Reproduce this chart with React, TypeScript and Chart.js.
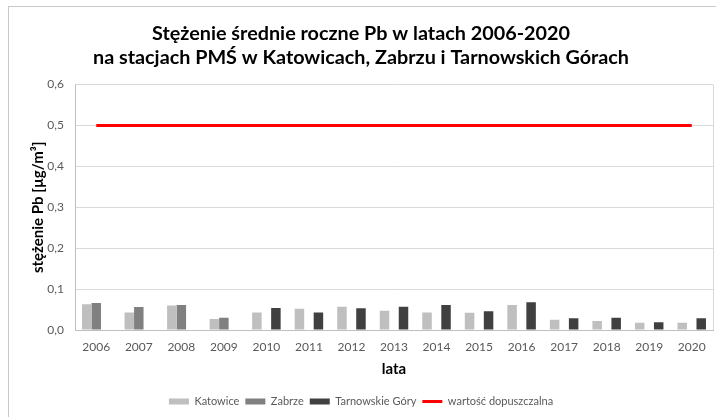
import React, { useEffect, useRef } from 'react';
import { Chart, registerables } from 'chart.js';

Chart.register(...registerables);

const years = ['2006', '2007', '2008', '2009', '2010', '2011', '2012', '2013', '2014', '2015', '2016', '2017', '2018', '2019', '2020'];
const katowice = [0.063, 0.043, 0.060, 0.027, 0.043, 0.052, 0.057, 0.047, 0.043, 0.042, 0.061, 0.025, 0.022, 0.018, 0.018];
const zabrze = [0.066, 0.056, 0.061, 0.030, null, null, null, null, null, null, null, null, null, null, null];
const tarnowskieGory = [null, null, null, null, 0.054, 0.043, 0.053, 0.057, 0.061, 0.046, 0.068, 0.029, 0.030, 0.019, 0.029];
const limitValue = [0.5, 0.5, 0.5, 0.5, 0.5, 0.5, 0.5, 0.5, 0.5, 0.5, 0.5, 0.5, 0.5, 0.5, 0.5];

const titleLines = ['Stężenie średnie roczne Pb w latach 2006-2020', 'na stacjach PMŚ w Katowicach, Zabrzu i Tarnowskich Górach'];
const yTitle = 'stężenie Pb [µg/m³]';
const xTitle = 'lata';

const FONT = 'Lato, "Open Sans", sans-serif';

const frame = {
  id: 'frame',
  beforeDraw(chart: any) {
    const { ctx } = chart;
    ctx.save();
    ctx.fillStyle = '#ffffff';
    ctx.fillRect(0, 0, chart.width, chart.height);
    ctx.strokeStyle = '#c8c8c8';
    ctx.lineWidth = 1;
    ctx.strokeRect(8.5, 6.5, chart.width + 20, chart.height + 20);
    ctx.restore();
  },
  afterDatasetsDraw(chart: any) {
    const { ctx, chartArea } = chart;
    ctx.save();
    ctx.strokeStyle = '#d9d9d9';
    ctx.lineWidth = 1;
    const x = Math.round(chartArea.right) + 0.5;
    ctx.beginPath();
    ctx.moveTo(x, chartArea.top);
    ctx.lineTo(x, chartArea.bottom);
    ctx.stroke();
    ctx.restore();
  },
};

export default function App() {
  const ref = useRef<HTMLCanvasElement | null>(null);

  useEffect(() => {
    if (!ref.current) return;
    const chart = new Chart(ref.current, {
      type: 'bar',
      data: {
        labels: years,
        datasets: [
          { type: 'bar', label: 'Katowice', data: katowice, backgroundColor: '#bfbfbf', borderWidth: 0, pointStyle: 'rect' } as any,
          { type: 'bar', label: 'Zabrze', data: zabrze, backgroundColor: '#808080', borderWidth: 0, pointStyle: 'rect' } as any,
          { type: 'bar', label: 'Tarnowskie Góry', data: tarnowskieGory, backgroundColor: '#404040', borderWidth: 0, pointStyle: 'rect' } as any,
          {
            type: 'line',
            label: 'wartość dopuszczalna',
            data: limitValue,
            borderColor: '#ff0000',
            backgroundColor: '#ff0000',
            borderWidth: 3,
            pointRadius: 0,
            pointStyle: 'line',
            fill: false,
          } as any,
        ],
      },
      options: {
        animation: false,
        responsive: true,
        maintainAspectRatio: false,
        layout: { padding: { left: 9, right: 3, top: 0, bottom: 0 } },
        datasets: {
          bar: { categoryPercentage: 0.67, barPercentage: 1.0 },
        } as any,
        plugins: {
          title: {
            display: true,
            text: titleLines,
            color: '#000000',
            font: { family: FONT, size: 19.8, weight: 'bold', lineHeight: 1.2 },
            padding: { top: 22, bottom: 15 },
          },
          legend: {
            position: 'bottom',
            labels: {
              usePointStyle: true,
              pointStyleWidth: 20,
              boxHeight: 6,
              color: '#595959',
              font: { family: FONT, size: 11 },
              padding: 6,
            },
          },
          tooltip: { enabled: false },
        },
        scales: {
          x: {
            grid: { display: false, drawTicks: false },
            border: { display: true, color: '#bfbfbf' },
            ticks: { color: '#595959', font: { family: FONT, size: 12 }, padding: 10 },
            title: {
              display: true,
              text: xTitle,
              color: '#000000',
              font: { family: FONT, size: 15, weight: 'bold', lineHeight: 1.2 },
              padding: { top: 6, bottom: 12 },
            },
            afterFit: (scale: any) => {
              scale.height = 60;
            },
          },
          y: {
            min: 0,
            max: 0.6,
            ticks: {
              stepSize: 0.1,
              color: '#595959',
              font: { family: FONT, size: 12 },
              padding: 11,
              callback: (v: any) => Number(v).toFixed(1).replace('.', ','),
            },
            grid: { color: '#d9d9d9', drawTicks: false },
            border: { display: true, color: '#bfbfbf' },
            title: {
              display: true,
              text: yTitle,
              color: '#000000',
              font: { family: FONT, size: 15, weight: 'bold', lineHeight: 1.2 },
              padding: { top: 20, bottom: 4 },
            },
            afterFit: (scale: any) => {
              scale.width = 66;
            },
          },
        },
      },
      plugins: [frame],
    });
    return () => chart.destroy();
  }, []);

  return (
    <div style={{ position: 'absolute', left: 0, top: 0, width: 716, height: 417 }}>
      <canvas ref={ref} />
    </div>
  );
}
